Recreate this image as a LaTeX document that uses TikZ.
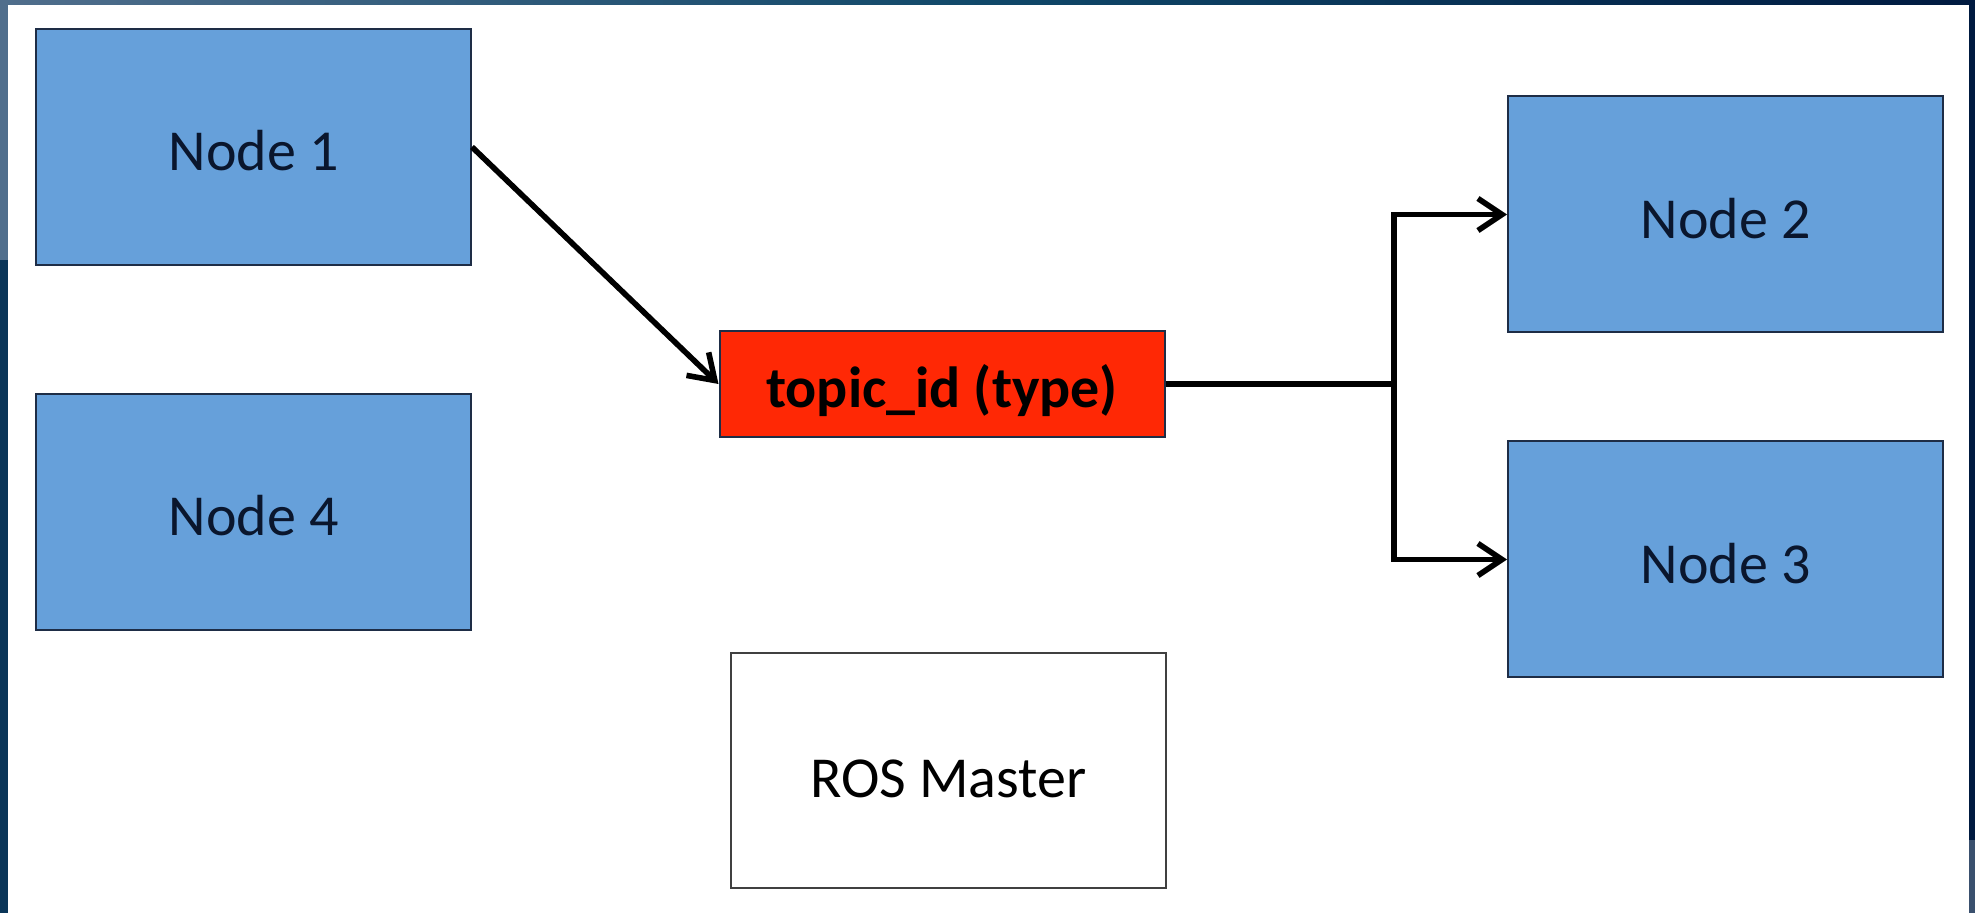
\documentclass[tikz,border=0pt]{standalone}
\usepackage{fontspec}
\setmainfont{Carlito}
\usetikzlibrary{arrows.meta}
\definecolor{boxblue}{RGB}{102,160,218}
\definecolor{boxedge}{RGB}{30,45,70}
\definecolor{topicred}{RGB}{255,40,5}
\definecolor{txt}{RGB}{10,22,45}
\definecolor{frameL}{RGB}{80,110,140}
\definecolor{frameM}{RGB}{16,72,105}
\definecolor{frameR}{RGB}{0,26,64}
\definecolor{stripL}{RGB}{10,53,88}
\definecolor{stripRlow}{RGB}{58,80,110}
\tikzset{
  blk/.style={draw=boxedge, line width=1pt, fill=boxblue, minimum width=217.5pt,
    minimum height=118pt, inner sep=0pt, text height=24pt, text depth=0pt,
    font=\fontsize{29}{34}\selectfont, text=txt},
  topicbox/.style={draw=boxedge, line width=1pt, fill=topicred, minimum width=222.5pt,
    minimum height=53pt, inner sep=0pt, text height=24pt, text depth=0pt,
    font=\fontsize{29}{34}\selectfont\bfseries, text=black},
  masterbox/.style={draw=black!75, line width=1.4pt, fill=white, minimum width=217.5pt,
    minimum height=117.5pt, inner sep=0pt, text height=27pt, text depth=0pt,
    font=\fontsize{29}{34}\selectfont, text=black},
  link/.style={line width=2.8pt, black},
  arr/.style={link, -{Straight Barb[length=12pt, width=16pt, line width=2.8pt]}}
}
\begin{document}
\begin{tikzpicture}[x=0.5pt, y=-0.5pt]
\useasboundingbox (0,0) rectangle (1975,913);
% frame
\shade[left color=frameL, right color=frameR, middle color=frameM] (0,0) rectangle (1975,913);
\fill[stripL] (0,260) rectangle (8,913);
\fill[frameR] (1969,0) rectangle (1975,840);
\fill[stripRlow] (1969,840) rectangle (1975,913);
\fill[white] (8,5) rectangle (1969,913);
% nodes
\node[blk] (n1) at (253.5,147) {Node 1};
\node[blk] (n4) at (253.5,512) {Node 4};
\node[topicbox] (topic) at (942,384) {topic\_id (type)};
\node[masterbox] (master) at (948.5,770.5) {ROS Master};
\node[blk] (n2) at (1725.5,214.5) {Node 2};
\node[blk] (n3) at (1725.5,559.5) {Node 3};
% connectors
\coordinate (br) at (1394,384);
\draw[arr] (n1.east) -- (topic.west);
\draw[link] (topic.east) -- (br);
\draw[arr] (br) |- (n2.west);
\draw[arr] (br) |- (n3.west);
\end{tikzpicture}
\end{document}
